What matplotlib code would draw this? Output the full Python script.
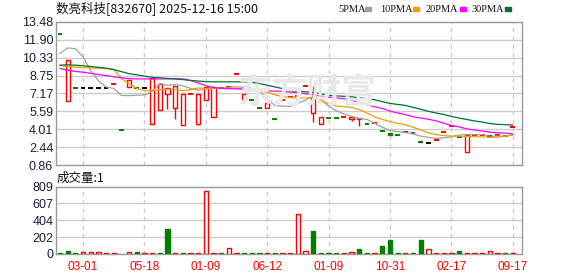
import numpy as np
import matplotlib.pyplot as plt

plt.rcParams['font.family'] = ['Liberation Sans', 'Noto Sans CJK SC', 'DejaVu Sans']

title = '数亮科技[832670] 2025-12-16 15:00'
date_labels = ['03-01', '05-18', '01-09', '06-12', '01-09', '10-31', '02-17', '09-17']
date_pos = [3, 11, 19, 27, 35, 43, 51, 59]
price_ticks = [0.86, 2.44, 4.01, 5.59, 7.17, 8.75, 10.33, 11.90, 13.48]
vol_ticks = [0, 202, 404, 607, 809]

# 日K数据
opens = [12.46, 6.52, 7.62, 7.62, 7.62, 7.62, 7.62, 8.05, 3.94, 7.70,
         7.62, 7.62, 4.44, 5.68, 7.17, 5.85, 4.35, 7.12, 4.50, 6.64,
         5.14, 7.62, 7.70, 8.87, 6.64, 6.58, 5.85, 5.85, 4.88, 6.58,
         6.82, 6.94, 7.82, 5.41, 4.44, 5.03, 4.97, 5.06, 4.93, 4.88,
         4.44, 4.53, 3.85, 3.65, 3.50, 3.74, 3.65, 2.86, 2.77, 3.06,
         3.74, 4.29, 3.30, 1.98, 3.55, 3.55, 3.39, 3.50, 3.41, 4.17]
closes = [12.46, 10.17, 7.62, 7.62, 7.62, 7.62, 7.62, 8.05, 3.94, 8.32,
          7.62, 7.62, 8.52, 7.97, 7.62, 7.82, 7.10, 7.12, 7.11, 7.70,
          7.70, 7.62, 7.70, 8.87, 7.11, 6.58, 5.85, 6.29, 4.88, 6.58,
          6.82, 6.94, 7.82, 6.82, 5.06, 5.03, 4.97, 5.06, 5.09, 4.88,
          4.44, 4.53, 3.85, 3.50, 3.50, 3.74, 3.65, 2.86, 2.77, 3.06,
          3.74, 4.29, 3.30, 3.50, 3.55, 3.55, 3.39, 3.50, 3.41, 4.17]
highs = [12.46, 10.17, 7.62, 7.62, 7.62, 7.62, 7.62, 8.05, 3.94, 8.32,
         7.62, 7.62, 8.52, 7.97, 7.62, 7.82, 7.10, 7.12, 7.11, 7.76,
         7.70, 7.62, 7.70, 8.87, 7.11, 6.58, 5.85, 6.29, 4.88, 6.58,
         6.82, 6.94, 7.82, 7.80, 5.06, 5.03, 4.97, 5.06, 5.09, 4.88,
         4.44, 4.53, 3.85, 3.65, 3.50, 3.74, 3.65, 3.06, 2.77, 3.06,
         3.74, 4.29, 3.30, 3.50, 3.55, 3.55, 3.39, 3.50, 3.41, 4.17]
lows = [12.46, 6.52, 7.62, 7.62, 7.62, 7.62, 7.62, 8.05, 3.94, 7.70,
        7.62, 7.62, 4.44, 5.68, 5.77, 4.88, 4.35, 7.12, 4.35, 6.64,
        5.14, 7.62, 7.70, 8.87, 6.64, 6.58, 5.85, 5.85, 4.88, 6.58,
        6.82, 6.94, 7.82, 4.67, 4.44, 5.03, 4.97, 5.06, 4.74, 4.29,
        4.44, 4.53, 3.85, 3.50, 3.50, 3.74, 3.65, 2.86, 2.77, 3.06,
        3.74, 4.29, 3.30, 1.98, 3.55, 3.55, 3.39, 3.50, 3.41, 4.17]
# 涨跌: 1 涨, -1 跌, 0 平
trend = [-1, 1, -1, 0, 0, 0, 0, 1, -1, 1,
         -1, 0, 1, 1, 1, 1, 1, 1, 1, 1,
         1, 1, 1, 1, 1, -1, -1, 1, -1, 1,
         1, 1, 1, 1, 1, -1, -1, 1, 1, 1,
         -1, 1, -1, -1, -1, 1, -1, -1, 0, 1,
         1, 1, -1, 1, 1, 1, 0, 1, -1, 1]

ma5 = [10.70, 11.19, 11.13, 10.40, 9.20, 8.30, 7.75, 7.62, 7.00, 6.98,
       7.02, 7.05, 7.33, 8.05, 7.90, 7.95, 7.85, 7.62, 7.45, 7.55,
       7.62, 7.62, 7.70, 7.76, 7.72, 7.62, 7.40, 6.70, 6.10, 6.06,
       6.03, 6.30, 6.58, 6.94, 6.60, 6.06, 5.65, 5.35, 5.15, 4.97,
       4.88, 4.55, 4.20, 3.90, 3.80, 3.72, 3.60, 3.41, 3.30, 3.21,
       3.26, 3.35, 3.50, 3.55, 3.55, 3.55, 3.41, 3.41, 3.41, 3.50]
ma10 = [9.65, 9.55, 9.50, 9.45, 9.42, 9.40, 9.40, 9.30, 8.50, 8.05,
        7.62, 7.40, 7.45, 7.50, 7.55, 7.50, 7.42, 7.50, 7.65, 7.62,
        7.62, 7.62, 7.62, 7.62, 7.55, 7.48, 7.40, 7.30, 7.05, 6.90,
        6.82, 6.75, 6.78, 6.82, 6.60, 6.25, 6.06, 6.00, 5.94, 5.75,
        5.45, 5.10, 4.88, 4.70, 4.53, 4.42, 4.20, 3.95, 3.70, 3.55,
        3.45, 3.42, 3.40, 3.38, 3.36, 3.34, 3.30, 3.32, 3.40, 3.52]
ma20 = [9.38, 9.22, 9.12, 9.05, 8.95, 8.85, 8.75, 8.65, 8.55, 8.48,
        8.46, 8.46, 8.46, 8.46, 8.46, 8.48, 8.45, 8.32, 8.10, 7.85,
        7.70, 7.62, 7.60, 7.58, 7.55, 7.52, 7.48, 7.40, 7.38, 7.36,
        7.30, 7.24, 7.15, 7.05, 6.95, 6.85, 6.78, 6.70, 6.58, 6.38,
        6.18, 6.00, 5.85, 5.62, 5.45, 5.30, 5.12, 5.00, 4.90, 4.75,
        4.55, 4.35, 4.22, 4.05, 3.95, 3.85, 3.76, 3.70, 3.68, 3.60]
ma30 = [9.67, 9.70, 9.67, 9.62, 9.55, 9.48, 9.40, 9.28, 9.10, 8.92,
        8.82, 8.70, 8.60, 8.55, 8.50, 8.45, 8.40, 8.33, 8.27, 8.22,
        8.20, 8.20, 8.20, 8.20, 8.20, 8.15, 8.05, 7.90, 7.75, 7.60,
        7.42, 7.38, 7.32, 7.26, 7.15, 7.02, 6.96, 6.92, 6.88, 6.80,
        6.70, 6.62, 6.45, 6.30, 6.20, 6.12, 5.95, 5.78, 5.60, 5.45,
        5.32, 5.15, 5.00, 4.88, 4.75, 4.65, 4.52, 4.45, 4.42, 4.38]

volume = [8, 40, 8, 20, 20, 20, 8, 8, 0, 20,
          20, 8, 8, 8, 300, 8, 8, 8, 8, 755,
          8, 8, 75, 8, 8, 8, 8, 8, 8, 8,
          8, 478, 40, 278, 8, 8, 8, 8, 20, 62,
          8, 8, 96, 170, 8, 8, 8, 170, 56, 8,
          8, 8, 40, 8, 8, 8, 36, 8, 8, 8]
vol_trend = [-1, -1, -1, 1, 1, 1, 1, 1, 1, 1,
             -1, 1, 1, -1, -1, 1, -1, 1, 1, 1,
             1, -1, 1, 1, -1, -1, -1, 1, -1, 1,
             1, 1, 1, -1, -1, -1, -1, 1, 1, -1,
             -1, 1, -1, -1, -1, 1, -1, -1, 1, 1,
             1, 1, -1, 1, 1, 1, 1, 1, -1, 1]

RED, GREEN, BLACK = '#ff0000', '#008000', '#000000'
cmap = {1: RED, -1: GREEN, 0: BLACK}
grid_c = '#cccccc'
spine_c = '#999999'
W = 0.56

fig = plt.figure(figsize=(5.78, 2.76), dpi=100)
ax = fig.add_axes([56 / 578, 1 - 165 / 276, 466 / 578, 143 / 276])
axv = fig.add_axes([56 / 578, 1 - 254 / 276, 466 / 578, 67.5 / 276])

x = np.arange(len(opens))

# 水印
fig.text(307 / 578, 1 - 92.5 / 276, '东方财富', fontsize=25, fontweight='bold',
         color='#e8e8e8', ha='center', va='center', zorder=0.5,
         family=['Noto Sans CJK SC'])
ax.set_facecolor('none')

# K线
for i in x:
    o, c, h, l = opens[i], closes[i], highs[i], lows[i]
    col = cmap[trend[i]]
    top, bot = max(o, c), min(o, c)
    if h > top:
        ax.vlines(i, top, h, color=col, lw=1, zorder=2)
    if l < bot:
        ax.vlines(i, l, bot, color=col, lw=1, zorder=2)
    if o == c:
        ax.hlines(o, i - 0.32, i + 0.32, color=col, lw=1.4, zorder=3)
    else:
        fc = 'white' if c > o else col
        ax.bar(i, top - bot, bottom=bot, width=W, facecolor=fc,
               edgecolor=col, lw=1, zorder=3)

# 均线
ax.plot(x, ma5, color='#a0a0a0', lw=0.9, zorder=4)
ax.plot(x, ma10, color='#f0a000', lw=0.9, zorder=4)
ax.plot(x, ma20, color='#ff00ff', lw=0.9, zorder=4)
ax.plot(x, ma30, color='#006f30', lw=0.9, zorder=4)

# 成交量
for i in x:
    if volume[i] <= 0:
        continue
    col = RED if vol_trend[i] > 0 else GREEN
    fc = 'white' if vol_trend[i] > 0 else col
    axv.bar(i, volume[i], width=W, facecolor=fc, edgecolor=col, lw=1, zorder=3)

for a, ticks in ((ax, price_ticks), (axv, vol_ticks)):
    a.set_xlim(-0.52, 60.2)
    a.set_ylim(ticks[0], ticks[-1])
    a.set_yticks(ticks)
    a.set_xticks(date_pos)
    for t in ticks[1:-1]:
        a.axhline(t, color=grid_c, lw=1, zorder=1)
    for p in date_pos:
        a.axvline(p, color=grid_c, lw=1, ls=(0, (3, 3)), zorder=1)
    a.tick_params(length=0, labelsize=9, labelcolor='#1c1c3c', pad=2)
    for s in a.spines.values():
        s.set_color(spine_c)
        s.set_linewidth(1)

ax.set_yticklabels(['%.2f' % t for t in price_ticks])
ax.set_xticklabels([])
axv.set_yticklabels([str(t) for t in vol_ticks])
axv.set_xticklabels(date_labels, color=RED, fontsize=8.5)
axv.tick_params(axis='x', pad=5)

fig.text(56 / 578, 1 - 8.5 / 276, title, fontsize=9, va='center', ha='left',
         family=['Noto Sans CJK SC', 'DejaVu Sans'], color='#111111')
fig.text(57 / 578, 1 - 178 / 276, '成交量:1', fontsize=9, va='center', ha='left',
         family=['Noto Sans CJK SC', 'DejaVu Sans'], color='#111111')

# 图例
legend = [('5PMA', 338, 365, '#a0a0a0'), ('10PMA', 380, 413, '#f0a000'),
          ('20PMA', 426, 460, '#ff00ff'), ('30PMA', 472, 505, '#006f30')]
for name, tx, mx, col in legend:
    fig.text(tx / 578, 1 - 9 / 276, name, fontsize=7.5, va='center', ha='left',
             color='#111111', family=['Liberation Serif'])
    fig.patches.append(plt.Rectangle((mx / 578, 1 - 10.5 / 276), 6 / 578, 3 / 276,
                                     transform=fig.transFigure, color=col,
                                     figure=fig))

fig.savefig('out.png', dpi=100)
